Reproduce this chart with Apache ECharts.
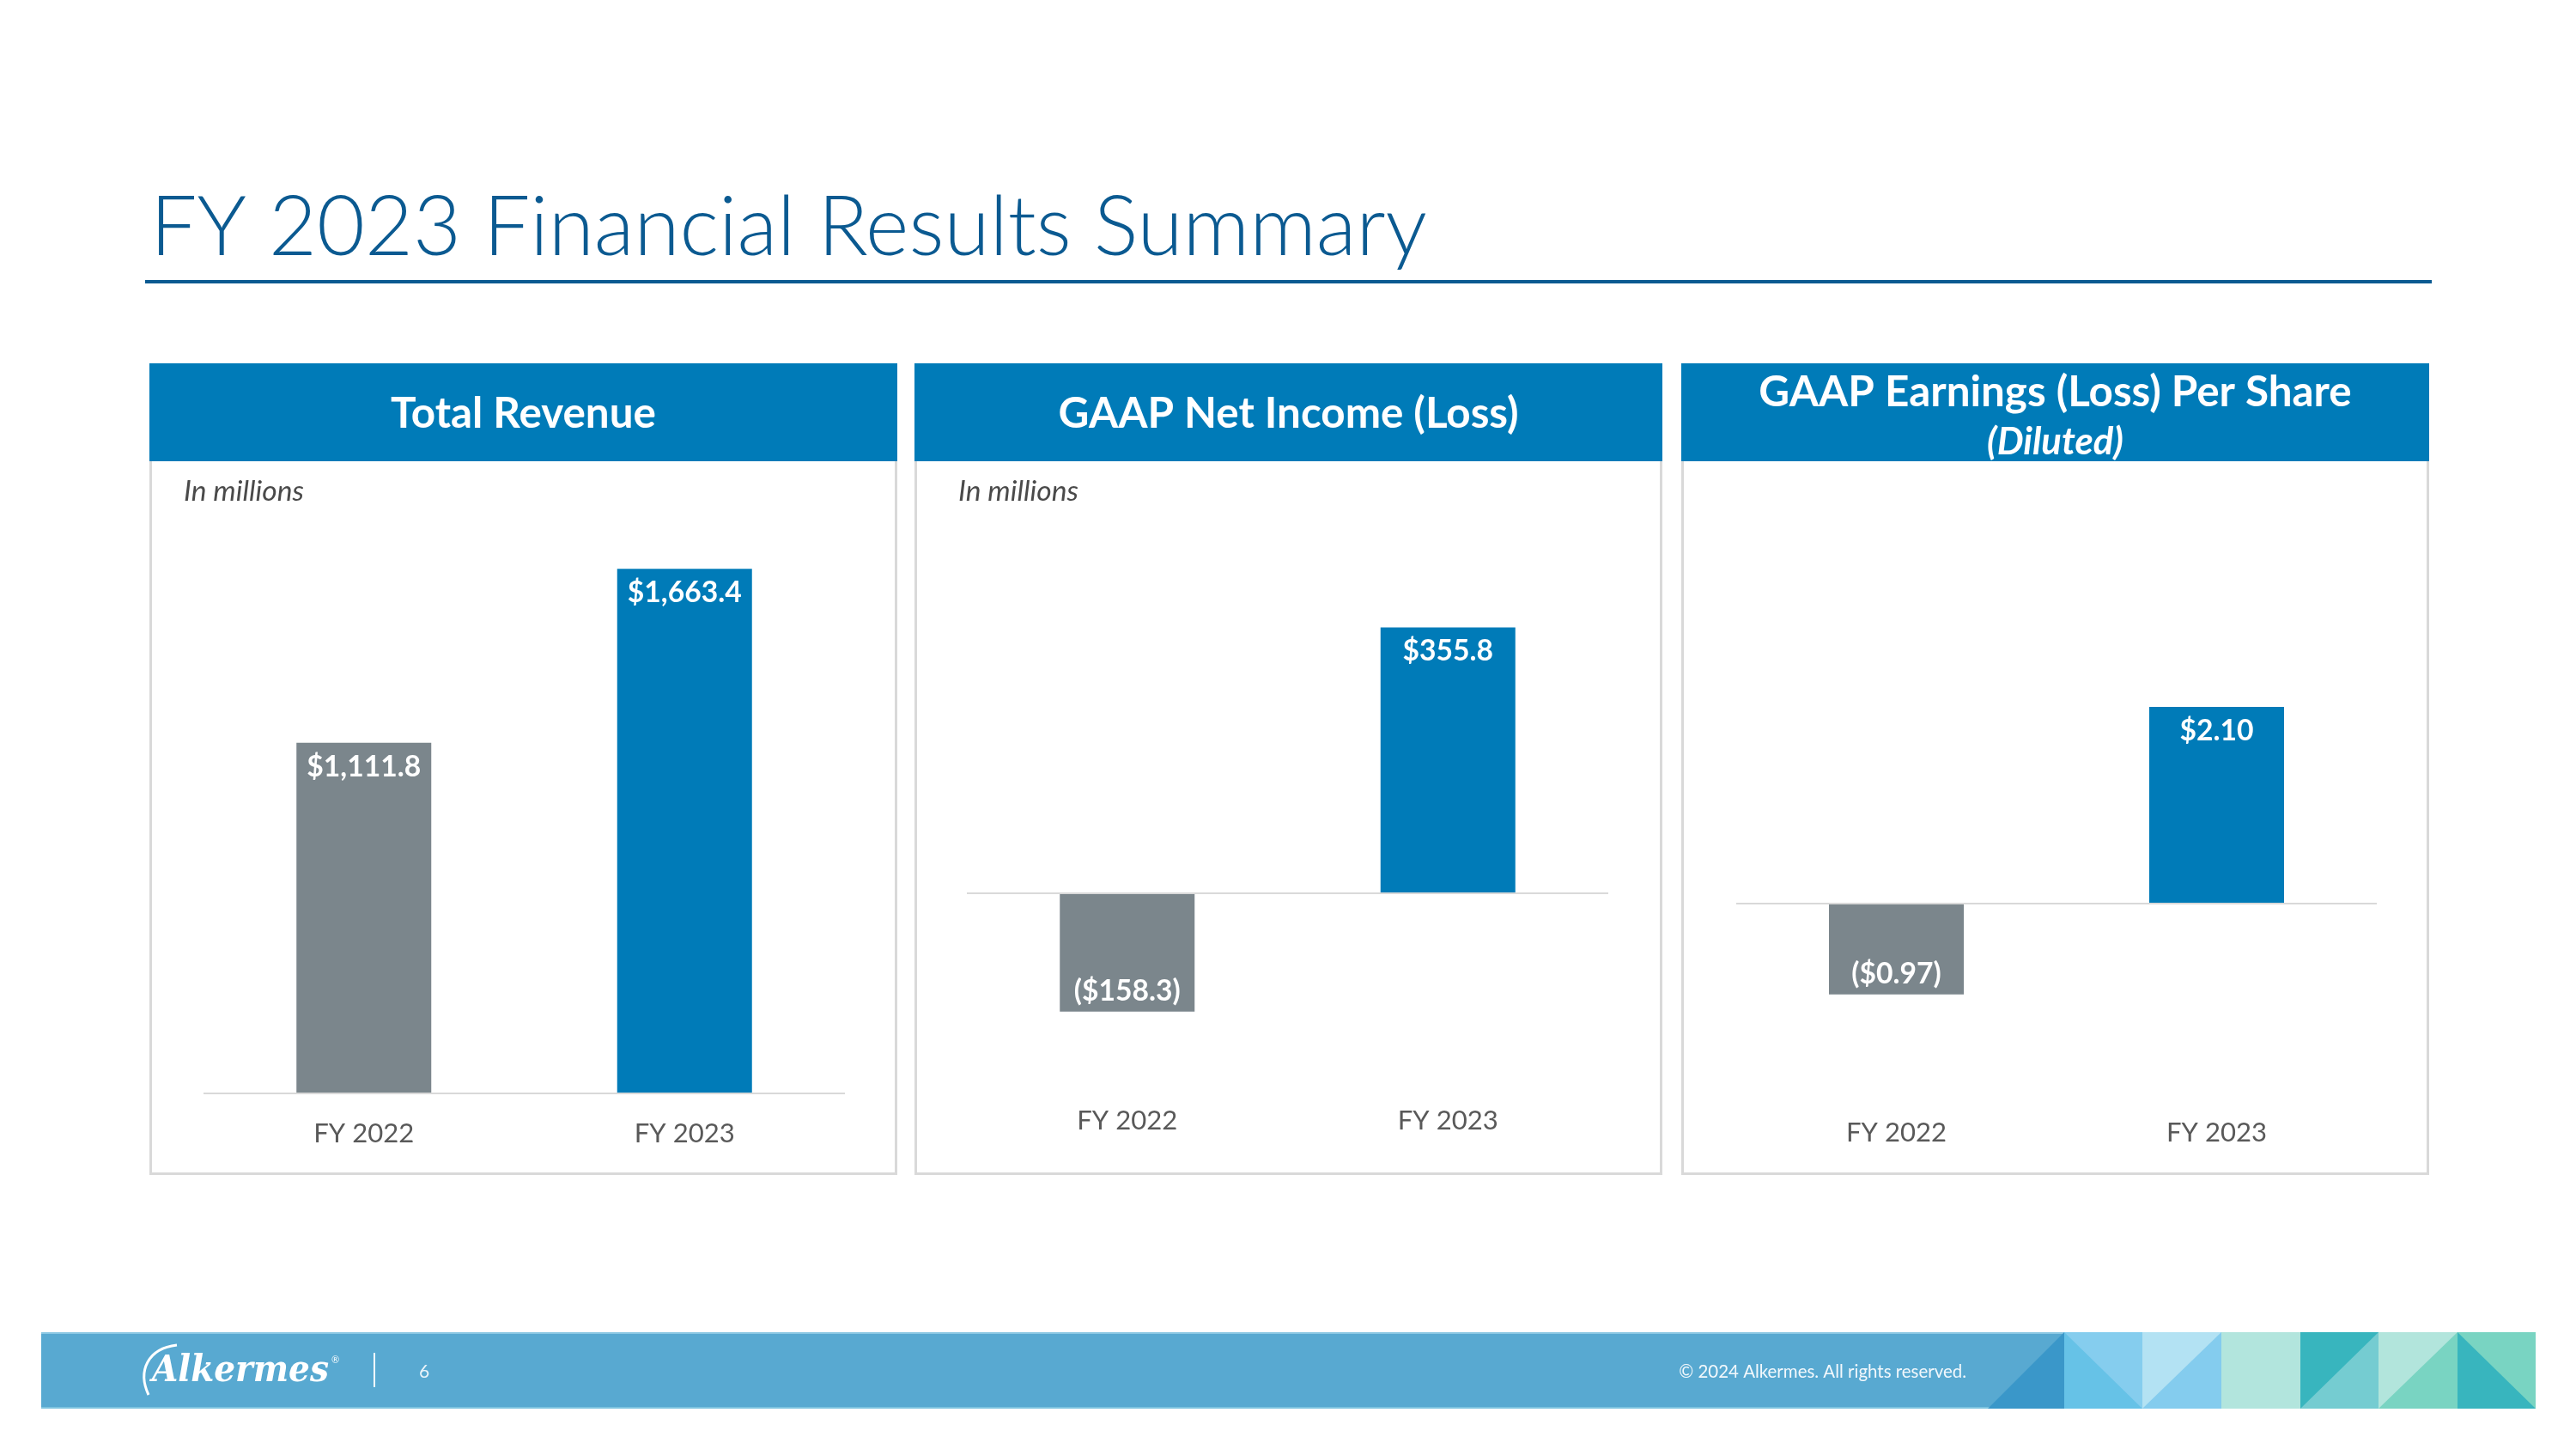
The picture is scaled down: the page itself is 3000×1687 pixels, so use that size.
<!DOCTYPE html>
<html><head><meta charset="utf-8">
<script src="https://cdn.jsdelivr.net/npm/echarts@6/dist/echarts.min.js"></script>
<style>html,body{margin:0;padding:0;background:#fff}#c{width:3000px;height:1687px}</style>
</head><body><div id="c"></div>
<script>
// ---------- data ----------
const pageTitle = 'FY 2023 Financial Results Summary';
const categories = ['FY 2022', 'FY 2023'];
const panelTitles = ['Total Revenue', 'GAAP Net Income (Loss)', 'GAAP Earnings (Loss) Per Share'];
const panel3Subtitle = '(Diluted)';
const unitNote = 'In millions';
const revenue = [1111.8, 1663.4];
const netIncome = [-158.3, 355.8];
const eps = [-0.97, 2.10];
const valueDecimals = [1, 1, 2];
const footerText = '\u00A9 2024 Alkermes. All rights reserved.';
const pageNumber = '6';
const logoText = 'Alkermes';

// ---------- styles / layout ----------
const F = 'Lato';
const LOGO_F = 'DejaVu Serif Condensed';
const C_TITLE = '#0B5A91', C_HEAD = '#007BB8', C_BLUE = '#007BB8', C_GRAY = '#7B868C';
const C_TEXT = '#595959', C_BORDER = '#D9D9D9';
const ctx = document.createElement('canvas').getContext('2d');
function fit(text, style, weight, family, target) {
  ctx.font = style + ' ' + weight + ' 100px ' + family;
  const w = ctx.measureText(text).width;
  return w > 0 ? 100 * target / w : 40;
}
const titleSize = fit(pageTitle, 'normal', '300', F, 1487);
const headSize = (fit(panelTitles[0], 'normal', 'bold', F, 311) + fit(panelTitles[2], 'normal', 'bold', F, 686)) / 2;
const dilSize = fit(panel3Subtitle, 'italic', 'bold', F, 159);
const noteSize = fit(unitNote, 'italic', 'normal', F, 140);
const catSize = fit(categories[0], 'normal', 'normal', F, 117);
const valSize = fit('$1,663.4', 'normal', 'bold', F, 133);
const copySize = fit(footerText, 'normal', 'normal', F, 335);
const logoSize = fit(logoText, 'italic', 'bold', LOGO_F, 206);

const panelX = [174, 1065, 1958], panelW = 871, panelTop = 423, headBottom = 537, panelBottom = 1368;
// plot geometry per panel: left, width, zero-line y, px per unit, min, max, label center y
const plots = [
  {left: 237, width: 747, zeroY: 1273, ppu: 0.3672, min: 0, max: 1800, labY: 1320},
  {left: 1126, width: 747, zeroY: 1040, ppu: 0.870, min: -250, max: 500, labY: 1305},
  {left: 2022, width: 746, zeroY: 1052, ppu: 109.1, min: -2, max: 3, labY: 1319}
];
const seriesData = [revenue, netIncome, eps];

function fmt(v, d) {
  const s = Math.abs(v).toLocaleString('en-US', {minimumFractionDigits: d, maximumFractionDigits: d});
  return v < 0 ? '($' + s + ')' : '$' + s;
}

const grids = [], xAxes = [], yAxes = [], series = [];
plots.forEach((p, i) => {
  const top = p.zeroY - p.max * p.ppu;
  const botY = p.zeroY - p.min * p.ppu;
  grids.push({left: p.left, width: p.width, top: top, height: botY - top});
  xAxes.push({type: 'category', gridIndex: i, data: categories,
    axisLine: {show: false}, axisTick: {show: false}, splitLine: {show: false},
    axisLabel: {margin: p.labY - botY - catSize / 2, fontSize: catSize, fontFamily: F, color: C_TEXT}});
  yAxes.push({type: 'value', gridIndex: i, min: p.min, max: p.max, show: false, splitLine: {show: false}});
  series.push({type: 'bar', xAxisIndex: i, yAxisIndex: i, barWidth: 157,
    data: seriesData[i].map((v, k) => ({value: v,
      itemStyle: {color: k === 0 ? C_GRAY : C_BLUE},
      label: {position: v < 0 ? 'insideBottom' : 'insideTop', distance: v < 0 ? 7 : 11}})),
    label: {show: true, color: '#fff', fontFamily: F, fontWeight: 'bold', fontSize: valSize,
      formatter: (o) => fmt(o.value, valueDecimals[i])},
    markLine: {silent: true, symbol: ['none', 'none'], label: {show: false},
      lineStyle: {color: C_BORDER, width: 2, type: 'solid'}, data: [{yAxis: 0}], animation: false}
  });
});

const g = [];
// title + underline
g.push({type: 'text', left: 175, top: 266.5 - titleSize * 0.5, style: {text: pageTitle, fontSize: titleSize, fontWeight: 300, fontFamily: F, fill: C_TITLE}});
g.push({type: 'rect', shape: {x: 169, y: 326, width: 2832 - 169, height: 4}, style: {fill: C_TITLE}});
// panels
panelX.forEach((x, i) => {
  g.push({type: 'rect', shape: {x: x + 1.5, y: panelTop + 1.5, width: panelW - 3, height: panelBottom - panelTop - 3},
    style: {fill: 'none', stroke: C_BORDER, lineWidth: 3}});
  g.push({type: 'rect', shape: {x: x, y: panelTop, width: panelW, height: headBottom - panelTop}, style: {fill: C_HEAD}});
  const cx = x + panelW / 2;
  if (i < 2) {
    g.push({type: 'text', x: cx, y: 482, style: {text: panelTitles[i], fontSize: headSize, fontWeight: 'bold', fontFamily: F, fill: '#fff', textAlign: 'center', textVerticalAlign: 'middle'}});
    g.push({type: 'text', x: x + (i === 0 ? 40 : 51), y: 572, style: {text: unitNote, fontSize: noteSize, fontStyle: 'italic', fontFamily: F, fill: '#4A4A4A', textAlign: 'left', textVerticalAlign: 'middle'}});
  } else {
    g.push({type: 'text', x: cx, y: 457, style: {text: panelTitles[i], fontSize: headSize, fontWeight: 'bold', fontFamily: F, fill: '#fff', textAlign: 'center', textVerticalAlign: 'middle'}});
    g.push({type: 'text', x: cx, y: 515, style: {text: panel3Subtitle, fontSize: dilSize, fontWeight: 'bold', fontStyle: 'italic', fontFamily: F, fill: '#fff', textAlign: 'center', textVerticalAlign: 'middle'}});
  }
});
// footer band
const T = 1551, B = 1640;
g.push({type: 'rect', shape: {x: 48, y: T, width: 2953 - 48, height: B - T}, style: {fill: '#58A9D1'}});
g.push({type: 'rect', shape: {x: 48, y: T, width: 2953 - 48, height: 2}, style: {fill: '#8CC8E4'}});
g.push({type: 'rect', shape: {x: 48, y: B - 2, width: 2953 - 48, height: 2}, style: {fill: '#7DC3DF'}});
const blocks = [
  {x0: 2404, x1: 2495, base: '#85CDEE', tri: [[2404, T], [2404, B], [2495, B]], tc: '#66C2E7'},
  {x0: 2495, x1: 2587, base: '#B3E2F3', tri: [[2587, T], [2587, B], [2495, B]], tc: '#84CCEE'},
  {x0: 2587, x1: 2679, base: '#B2E5DD', tri: null},
  {x0: 2679, x1: 2770, base: '#38B5BE', tri: [[2770, T], [2770, B], [2679, B]], tc: '#75CCD1'},
  {x0: 2770, x1: 2862, base: '#B2E5DC', tri: [[2862, T], [2862, B], [2770, B]], tc: '#79D4C2'},
  {x0: 2862, x1: 2953, base: '#79D4C2', tri: [[2862, T], [2862, B], [2953, B]], tc: '#38B5BE'}
];
g.push({type: 'polygon', shape: {points: [[2404, T], [2404, B], [2315, B]]}, style: {fill: '#3A97C9'}});
blocks.forEach(b => {
  g.push({type: 'rect', shape: {x: b.x0, y: T, width: b.x1 - b.x0, height: B - T}, style: {fill: b.base}});
  if (b.tri) g.push({type: 'polygon', shape: {points: b.tri}, style: {fill: b.tc}});
});
// logo
g.push({type: 'bezierCurve', shape: {x1: 173, y1: 1624, cpx1: 160, cpy1: 1596, cpx2: 172, cpy2: 1570, x2: 206, y2: 1566}, style: {stroke: '#fff', lineWidth: 3, fill: 'none'}});
g.push({type: 'text', x: 177, y: 1597, style: {text: logoText, fontSize: logoSize, fontWeight: 'bold', fontStyle: 'italic', fontFamily: LOGO_F, fill: '#fff', textAlign: 'left', textVerticalAlign: 'middle'}});
g.push({type: 'text', x: 386, y: 1583, style: {text: '\u00AE', fontSize: 11, fontFamily: F, fill: '#fff', textAlign: 'left', textVerticalAlign: 'middle'}});
g.push({type: 'rect', shape: {x: 435, y: 1575, width: 2, height: 40}, style: {fill: '#fff'}});
g.push({type: 'text', x: 494, y: 1597, style: {text: pageNumber, fontSize: 21, fontFamily: F, fill: '#EAF4FA', textAlign: 'center', textVerticalAlign: 'middle'}});
g.push({type: 'text', x: 2290, y: 1597, style: {text: footerText, fontSize: copySize, fontFamily: F, fill: '#F2F8FC', textAlign: 'right', textVerticalAlign: 'middle'}});

const chart = echarts.init(document.getElementById('c'), null, {renderer: 'canvas'});
chart.setOption({
  animation: false,
  backgroundColor: '#ffffff',
  grid: grids, xAxis: xAxes, yAxis: yAxes, series: series,
  graphic: {elements: g}
});
</script></body></html>
